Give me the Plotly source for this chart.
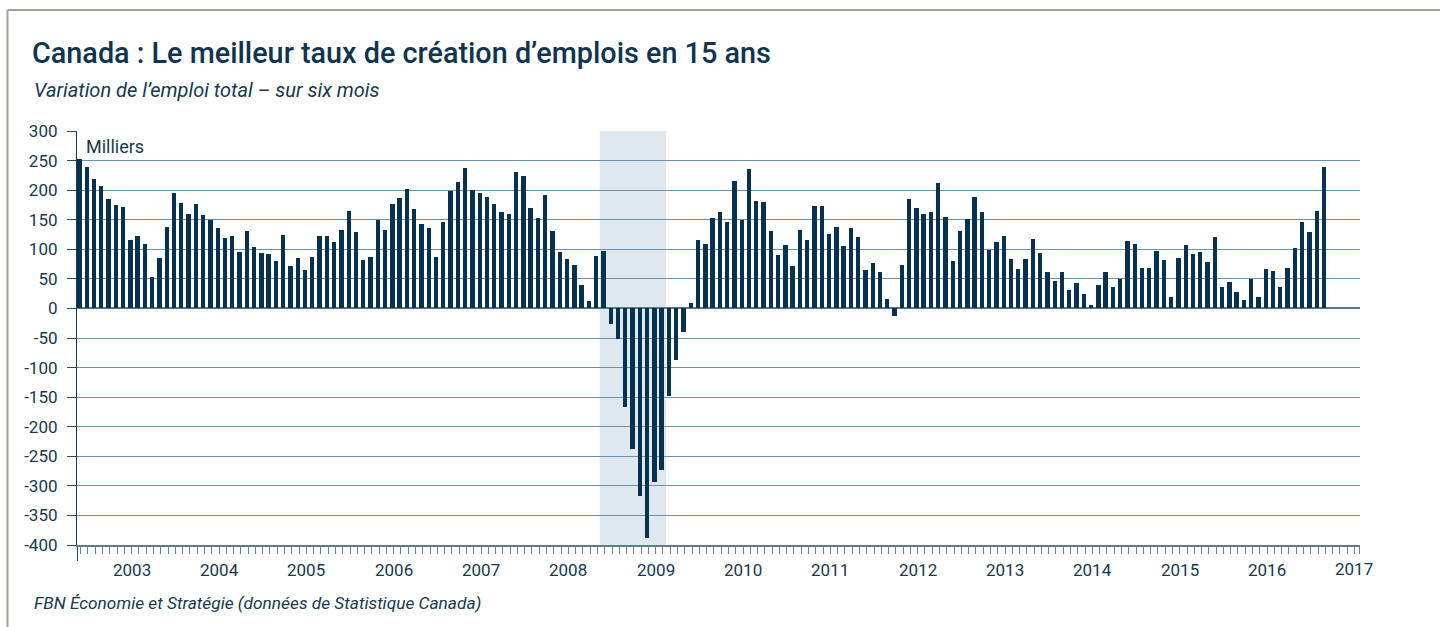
import plotly.graph_objects as go
import pandas as pd

# ---------------- data ----------------
values = [
    252, 239, 219, 207, 185, 175, 171, 116, 122, 109, 53, 86,
    138, 195, 178, 160, 176, 158, 149, 136, 119, 122, 96, 131,
    104, 94, 92, 80, 124, 72, 85, 65, 87, 122, 122, 112,
    133, 165, 129, 82, 87, 149, 133, 176, 187, 202, 168, 143,
    136, 87, 146, 198, 214, 237, 200, 195, 188, 176, 163, 160,
    230, 224, 170, 153, 192, 131, 96, 84, 74, 40, 13, 89,
    97, -26, -52, -167, -238, -317, -389, -293, -273, -148, -88, -40,
    10, 116, 109, 153, 163, 146, 215, 149, 235, 182, 180, 131,
    90, 107, 72, 133, 116, 173, 173, 126, 138, 106, 136, 121,
    65, 77, 62, 16, -12, 74, 185, 170, 160, 163, 212, 155,
    80, 131, 151, 188, 163, 99, 112, 123, 84, 67, 84, 117,
    94, 62, 47, 62, 32, 43, 25, 6, 40, 62, 37, 50,
    114, 109, 69, 69, 97, 82, 20, 85, 107, 92, 96, 79,
    121, 37, 45, 28, 15, 50, 20, 67, 64, 37, 69, 102,
    146, 129, 165, 239,
]
start_month = "2002-11"
months = pd.period_range(start_month, periods=len(values), freq="M").strftime("%Y-%m").tolist()
years = [str(y) for y in range(2003, 2018)]
y_ticks = [300, 250, 200, 150, 100, 50, 0, -50, -100, -150, -200, -250, -300, -350, -400]
y_ticktext = [str(v) for v in y_ticks]
recession_start = "2008-11"
recession_end = "2009-07"

TITLE = "Canada : Le meilleur taux de création d’emplois en 15 ans"
SUBTITLE = "Variation de l’emploi total – sur six mois"
SOURCE = "FBN Économie et Stratégie (données de Statistique Canada)"
UNIT = "Milliers"

# ---------------- styling ----------------
W, H = 1440, 627
ML, MR, MT, MB = 77, 80, 131, 82
PW, PH = W - ML - MR, H - MT - MB

def px_x(x):  # pixel -> paper x
    return (x - ML) / PW

def px_y(y):  # pixel -> paper y
    return (H - MB - y) / PH

BAR = "#07324f"
TXT = "#17384f"
GRID = "#6893b0"
FONT = "Roboto"

x_idx = list(range(len(values)))
TICK_OFF = -0.82
XMIN, XMAX = -0.33, 175.95

jan_idx = {int(m[:4]): i for i, m in enumerate(months) if m.endswith("-01")}
major_ticks = [XMIN + 0.01] + [jan_idx[int(y)] + TICK_OFF for y in years if int(y) in jan_idx]
minor_ticks = [m + TICK_OFF for m in range(1, 177)] + [XMAX - 0.02]

fig = go.Figure()
fig.add_trace(go.Bar(
    x=x_idx, y=values, width=0.6, marker=dict(color=BAR, line=dict(width=0)),
    customdata=months, hovertemplate="%{customdata}: %{y}<extra></extra>",
))

shapes = []
# recession shading
shapes.append(dict(type="rect", xref="x", yref="paper",
                   x0=months.index(recession_start) - 0.5, x1=months.index(recession_end) + 0.6,
                   y0=0, y1=1, fillcolor="#dfe7ef", line=dict(width=0), layer="below"))
# frame lines (top and left)
shapes.append(dict(type="line", xref="paper", yref="paper",
                   x0=px_x(7.5), x1=px_x(1441), y0=px_y(10), y1=px_y(10),
                   line=dict(color="#a3a293", width=2)))
shapes.append(dict(type="line", xref="paper", yref="paper",
                   x0=px_x(7.5), x1=px_x(7.5), y0=px_y(10), y1=px_y(628),
                   line=dict(color="#a3a293", width=2)))

annotations = []
for y in years:
    yi = int(y)
    if yi in jan_idx:
        xpos = jan_idx[yi] + TICK_OFF + 6
    else:
        xpos = jan_idx[yi - 1] + TICK_OFF + 12 + 5
    annotations.append(dict(x=xpos, y=0, xref="x", yref="paper", text=y, showarrow=False,
                            xanchor="center", yanchor="middle", yshift=-25 if yi < 2017 else -24,
                            font=dict(family=FONT, size=17, color=TXT)))
annotations.append(dict(x=px_x(32), y=px_y(90), xref="paper", yref="paper", text=SUBTITLE,
                        showarrow=False, xanchor="left", yanchor="middle",
                        font=dict(family=FONT, size=20, color=TXT, style="italic")))
annotations.append(dict(x=px_x(32), y=px_y(603), xref="paper", yref="paper", text=SOURCE,
                        showarrow=False, xanchor="left", yanchor="middle",
                        font=dict(family=FONT, size=17.3, color=TXT, style="italic")))
annotations.append(dict(x=px_x(84), y=px_y(146), xref="paper", yref="paper", text=UNIT,
                        showarrow=False, xanchor="left", yanchor="middle",
                        font=dict(family=FONT, size=18, color=TXT)))

fig.update_layout(
    width=W, height=H,
    margin=dict(l=ML, r=MR, t=MT, b=MB, pad=0),
    paper_bgcolor="white", plot_bgcolor="white",
    showlegend=False, bargap=0,
    title=dict(text=TITLE, x=32 / W, xref="container", xanchor="left",
               y=1 - 53 / H, yref="container", yanchor="middle",
               font=dict(family=FONT, size=28.8, color="#0f3450", weight=500)),
    shapes=shapes, annotations=annotations,
    xaxis=dict(range=[XMIN, XMAX], showgrid=False, zeroline=False,
               showline=True, linecolor="#5f7b8f", linewidth=1.5,
               tickmode="array", tickvals=major_ticks, ticktext=[""] * len(major_ticks),
               ticks="outside", ticklen=14, tickwidth=1.2, tickcolor="#2c4a60",
               showticklabels=False,
               minor=dict(tickmode="array", tickvals=minor_ticks, ticks="outside",
                          ticklen=7, tickwidth=1, tickcolor="#6b8598", showgrid=False)),
    yaxis=dict(range=[-400, 300], tickmode="array", tickvals=y_ticks, ticktext=y_ticktext,
               showgrid=True, gridcolor=GRID, gridwidth=1.3,
               zeroline=True, zerolinecolor="#56778e", zerolinewidth=1.6,
               showline=True, linecolor="#1b3a50", linewidth=1.2,
               ticks="outside", ticklen=9, tickwidth=1, tickcolor="#2c4a60",
               ticklabelstandoff=6,
               tickfont=dict(family=FONT, size=17, color=TXT)),
    font=dict(family=FONT, color=TXT),
)

fig.write_html("out.html", config={"displayModeBar": False},
               post_script="document.body.style.margin='0';")
